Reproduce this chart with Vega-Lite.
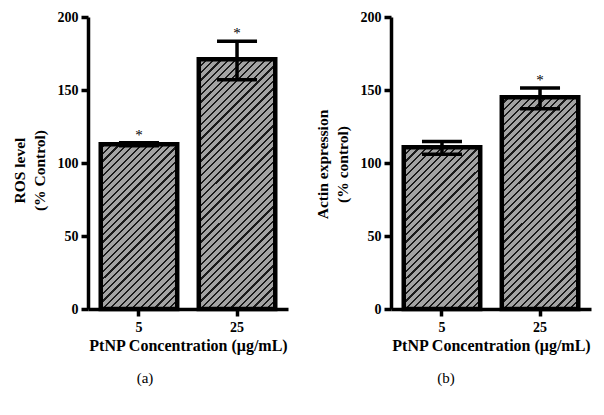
{
  "$schema": "https://vega.github.io/schema/vega-lite/v6.json",
  "background": "white",
  "padding": {"left": 12, "top": 10, "right": 5, "bottom": 5},
  "spacing": 27,
  "config": {
    "view": {"stroke": null},
    "axis": {"domainColor": "black", "domainWidth": 3.5, "tickColor": "black", "tickWidth": 3.5, "tickSize": 7, "labelColor": "black", "titleColor": "black", "grid": false},
    "bar": {
        "color": {
          "gradient": "linear", "x1": 0, "y1": 0, "x2": 0.309, "y2": 1.1808,
          "stops": [
            {"offset":0,"color":"#a3a3a3"},{"offset":0.014,"color":"#a3a3a3"},{"offset":0.014,"color":"#1a1a1a"},{"offset":0.02,"color":"#1a1a1a"},
            {"offset":0.02,"color":"#a3a3a3"},{"offset":0.034,"color":"#a3a3a3"},{"offset":0.034,"color":"#1a1a1a"},{"offset":0.04,"color":"#1a1a1a"},
            {"offset":0.04,"color":"#a3a3a3"},{"offset":0.054,"color":"#a3a3a3"},{"offset":0.054,"color":"#1a1a1a"},{"offset":0.06,"color":"#1a1a1a"},
            {"offset":0.06,"color":"#a3a3a3"},{"offset":0.074,"color":"#a3a3a3"},{"offset":0.074,"color":"#1a1a1a"},{"offset":0.08,"color":"#1a1a1a"},
            {"offset":0.08,"color":"#a3a3a3"},{"offset":0.094,"color":"#a3a3a3"},{"offset":0.094,"color":"#1a1a1a"},{"offset":0.1,"color":"#1a1a1a"},
            {"offset":0.1,"color":"#a3a3a3"},{"offset":0.114,"color":"#a3a3a3"},{"offset":0.114,"color":"#1a1a1a"},{"offset":0.12,"color":"#1a1a1a"},
            {"offset":0.12,"color":"#a3a3a3"},{"offset":0.134,"color":"#a3a3a3"},{"offset":0.134,"color":"#1a1a1a"},{"offset":0.14,"color":"#1a1a1a"},
            {"offset":0.14,"color":"#a3a3a3"},{"offset":0.154,"color":"#a3a3a3"},{"offset":0.154,"color":"#1a1a1a"},{"offset":0.16,"color":"#1a1a1a"},
            {"offset":0.16,"color":"#a3a3a3"},{"offset":0.174,"color":"#a3a3a3"},{"offset":0.174,"color":"#1a1a1a"},{"offset":0.18,"color":"#1a1a1a"},
            {"offset":0.18,"color":"#a3a3a3"},{"offset":0.194,"color":"#a3a3a3"},{"offset":0.194,"color":"#1a1a1a"},{"offset":0.2,"color":"#1a1a1a"},
            {"offset":0.2,"color":"#a3a3a3"},{"offset":0.214,"color":"#a3a3a3"},{"offset":0.214,"color":"#1a1a1a"},{"offset":0.22,"color":"#1a1a1a"},
            {"offset":0.22,"color":"#a3a3a3"},{"offset":0.234,"color":"#a3a3a3"},{"offset":0.234,"color":"#1a1a1a"},{"offset":0.24,"color":"#1a1a1a"},
            {"offset":0.24,"color":"#a3a3a3"},{"offset":0.254,"color":"#a3a3a3"},{"offset":0.254,"color":"#1a1a1a"},{"offset":0.26,"color":"#1a1a1a"},
            {"offset":0.26,"color":"#a3a3a3"},{"offset":0.274,"color":"#a3a3a3"},{"offset":0.274,"color":"#1a1a1a"},{"offset":0.28,"color":"#1a1a1a"},
            {"offset":0.28,"color":"#a3a3a3"},{"offset":0.294,"color":"#a3a3a3"},{"offset":0.294,"color":"#1a1a1a"},{"offset":0.3,"color":"#1a1a1a"},
            {"offset":0.3,"color":"#a3a3a3"},{"offset":0.314,"color":"#a3a3a3"},{"offset":0.314,"color":"#1a1a1a"},{"offset":0.32,"color":"#1a1a1a"},
            {"offset":0.32,"color":"#a3a3a3"},{"offset":0.334,"color":"#a3a3a3"},{"offset":0.334,"color":"#1a1a1a"},{"offset":0.34,"color":"#1a1a1a"},
            {"offset":0.34,"color":"#a3a3a3"},{"offset":0.354,"color":"#a3a3a3"},{"offset":0.354,"color":"#1a1a1a"},{"offset":0.36,"color":"#1a1a1a"},
            {"offset":0.36,"color":"#a3a3a3"},{"offset":0.374,"color":"#a3a3a3"},{"offset":0.374,"color":"#1a1a1a"},{"offset":0.38,"color":"#1a1a1a"},
            {"offset":0.38,"color":"#a3a3a3"},{"offset":0.394,"color":"#a3a3a3"},{"offset":0.394,"color":"#1a1a1a"},{"offset":0.4,"color":"#1a1a1a"},
            {"offset":0.4,"color":"#a3a3a3"},{"offset":0.414,"color":"#a3a3a3"},{"offset":0.414,"color":"#1a1a1a"},{"offset":0.42,"color":"#1a1a1a"},
            {"offset":0.42,"color":"#a3a3a3"},{"offset":0.434,"color":"#a3a3a3"},{"offset":0.434,"color":"#1a1a1a"},{"offset":0.44,"color":"#1a1a1a"},
            {"offset":0.44,"color":"#a3a3a3"},{"offset":0.454,"color":"#a3a3a3"},{"offset":0.454,"color":"#1a1a1a"},{"offset":0.46,"color":"#1a1a1a"},
            {"offset":0.46,"color":"#a3a3a3"},{"offset":0.474,"color":"#a3a3a3"},{"offset":0.474,"color":"#1a1a1a"},{"offset":0.48,"color":"#1a1a1a"},
            {"offset":0.48,"color":"#a3a3a3"},{"offset":0.494,"color":"#a3a3a3"},{"offset":0.494,"color":"#1a1a1a"},{"offset":0.5,"color":"#1a1a1a"},
            {"offset":0.5,"color":"#a3a3a3"},{"offset":0.514,"color":"#a3a3a3"},{"offset":0.514,"color":"#1a1a1a"},{"offset":0.52,"color":"#1a1a1a"},
            {"offset":0.52,"color":"#a3a3a3"},{"offset":0.534,"color":"#a3a3a3"},{"offset":0.534,"color":"#1a1a1a"},{"offset":0.54,"color":"#1a1a1a"},
            {"offset":0.54,"color":"#a3a3a3"},{"offset":0.554,"color":"#a3a3a3"},{"offset":0.554,"color":"#1a1a1a"},{"offset":0.56,"color":"#1a1a1a"},
            {"offset":0.56,"color":"#a3a3a3"},{"offset":0.574,"color":"#a3a3a3"},{"offset":0.574,"color":"#1a1a1a"},{"offset":0.58,"color":"#1a1a1a"},
            {"offset":0.58,"color":"#a3a3a3"},{"offset":0.594,"color":"#a3a3a3"},{"offset":0.594,"color":"#1a1a1a"},{"offset":0.6,"color":"#1a1a1a"},
            {"offset":0.6,"color":"#a3a3a3"},{"offset":0.614,"color":"#a3a3a3"},{"offset":0.614,"color":"#1a1a1a"},{"offset":0.62,"color":"#1a1a1a"},
            {"offset":0.62,"color":"#a3a3a3"},{"offset":0.634,"color":"#a3a3a3"},{"offset":0.634,"color":"#1a1a1a"},{"offset":0.64,"color":"#1a1a1a"},
            {"offset":0.64,"color":"#a3a3a3"},{"offset":0.654,"color":"#a3a3a3"},{"offset":0.654,"color":"#1a1a1a"},{"offset":0.66,"color":"#1a1a1a"},
            {"offset":0.66,"color":"#a3a3a3"},{"offset":0.674,"color":"#a3a3a3"},{"offset":0.674,"color":"#1a1a1a"},{"offset":0.68,"color":"#1a1a1a"},
            {"offset":0.68,"color":"#a3a3a3"},{"offset":0.694,"color":"#a3a3a3"},{"offset":0.694,"color":"#1a1a1a"},{"offset":0.7,"color":"#1a1a1a"},
            {"offset":0.7,"color":"#a3a3a3"},{"offset":0.714,"color":"#a3a3a3"},{"offset":0.714,"color":"#1a1a1a"},{"offset":0.72,"color":"#1a1a1a"},
            {"offset":0.72,"color":"#a3a3a3"},{"offset":0.734,"color":"#a3a3a3"},{"offset":0.734,"color":"#1a1a1a"},{"offset":0.74,"color":"#1a1a1a"},
            {"offset":0.74,"color":"#a3a3a3"},{"offset":0.754,"color":"#a3a3a3"},{"offset":0.754,"color":"#1a1a1a"},{"offset":0.76,"color":"#1a1a1a"},
            {"offset":0.76,"color":"#a3a3a3"},{"offset":0.774,"color":"#a3a3a3"},{"offset":0.774,"color":"#1a1a1a"},{"offset":0.78,"color":"#1a1a1a"},
            {"offset":0.78,"color":"#a3a3a3"},{"offset":0.794,"color":"#a3a3a3"},{"offset":0.794,"color":"#1a1a1a"},{"offset":0.8,"color":"#1a1a1a"},
            {"offset":0.8,"color":"#a3a3a3"},{"offset":0.814,"color":"#a3a3a3"},{"offset":0.814,"color":"#1a1a1a"},{"offset":0.82,"color":"#1a1a1a"},
            {"offset":0.82,"color":"#a3a3a3"},{"offset":0.834,"color":"#a3a3a3"},{"offset":0.834,"color":"#1a1a1a"},{"offset":0.84,"color":"#1a1a1a"},
            {"offset":0.84,"color":"#a3a3a3"},{"offset":0.854,"color":"#a3a3a3"},{"offset":0.854,"color":"#1a1a1a"},{"offset":0.86,"color":"#1a1a1a"},
            {"offset":0.86,"color":"#a3a3a3"},{"offset":0.874,"color":"#a3a3a3"},{"offset":0.874,"color":"#1a1a1a"},{"offset":0.88,"color":"#1a1a1a"},
            {"offset":0.88,"color":"#a3a3a3"},{"offset":0.894,"color":"#a3a3a3"},{"offset":0.894,"color":"#1a1a1a"},{"offset":0.9,"color":"#1a1a1a"},
            {"offset":0.9,"color":"#a3a3a3"},{"offset":0.914,"color":"#a3a3a3"},{"offset":0.914,"color":"#1a1a1a"},{"offset":0.92,"color":"#1a1a1a"},
            {"offset":0.92,"color":"#a3a3a3"},{"offset":0.934,"color":"#a3a3a3"},{"offset":0.934,"color":"#1a1a1a"},{"offset":0.94,"color":"#1a1a1a"},
            {"offset":0.94,"color":"#a3a3a3"},{"offset":0.954,"color":"#a3a3a3"},{"offset":0.954,"color":"#1a1a1a"},{"offset":0.96,"color":"#1a1a1a"},
            {"offset":0.96,"color":"#a3a3a3"},{"offset":0.974,"color":"#a3a3a3"},{"offset":0.974,"color":"#1a1a1a"},{"offset":0.98,"color":"#1a1a1a"},
            {"offset":0.98,"color":"#a3a3a3"},{"offset":0.994,"color":"#a3a3a3"},{"offset":0.994,"color":"#1a1a1a"},{"offset":1,"color":"#1a1a1a"}
          ]
        }
    }
  },
  "hconcat": [
    {
      "width": 200,
      "height": 292,
      "data": {"values": [
        {"conc": "5", "mean": 112.8, "lo": 111.8, "hi": 113.8, "sig": "*"},
        {"conc": "25", "mean": 171, "lo": 157, "hi": 183.4, "sig": "*"}
      ]},
      "title": {"text": "(a)", "orient": "bottom", "anchor": "middle", "dx": -43, "offset": 18, "font": "Liberation Serif", "fontSize": 15, "fontWeight": "normal", "color": "black"},
      "encoding": {
        "x": {"field": "conc", "type": "nominal", "sort": ["5", "25"], "scale": {"paddingInner": 0.22, "paddingOuter": 0.13},
              "axis": {"title": "PtNP Concentration (μg/mL)", "labelAngle": 0, "labelPadding": 4, "labelFont": "Liberation Serif", "labelFontSize": 14, "labelFontWeight": "bold", "titleFont": "Liberation Serif", "titleFontSize": 16, "titleFontWeight": "bold", "titlePadding": 3}}
      },
      "layer": [
        {"mark": {"type": "bar", "stroke": null},
         "encoding": {"y": {"datum": 0, "type": "quantitative", "scale": {"domain": [0, 200], "nice": false},
                            "axis": {"title": ["ROS level", "(% Control)"], "values": [0, 50, 100, 150, 200], "labelPadding": 3, "labelFont": "Liberation Serif", "labelFontSize": 14, "labelFontWeight": "bold", "titleFont": "Liberation Serif", "titleFontSize": 15.5, "titleFontWeight": "bold", "titlePadding": 10, "titleLineHeight": 20, "titleY": 153}},
                      "y2": {"datum": 200}}},
        {"mark": {"type": "bar", "fill": "white", "stroke": "white", "strokeWidth": 2},
         "encoding": {"y": {"field": "mean", "type": "quantitative"}, "y2": {"datum": 200}}},
        {"mark": {"type": "bar", "fillOpacity": 0, "stroke": "black", "strokeWidth": 4.5},
         "encoding": {"y": {"field": "mean", "type": "quantitative"}}},
        {"mark": {"type": "rule", "color": "black", "strokeWidth": 3.5},
         "encoding": {"y": {"field": "lo", "type": "quantitative"}, "y2": {"field": "hi"}}},
        {"mark": {"type": "tick", "color": "black", "opacity": 1, "thickness": 3.5, "size": 40},
         "encoding": {"y": {"field": "hi", "type": "quantitative"}}},
        {"mark": {"type": "tick", "color": "black", "opacity": 1, "thickness": 3.5, "size": 40},
         "encoding": {"y": {"field": "lo", "type": "quantitative"}}},
        {"mark": {"type": "text", "fill": "black", "font": "Liberation Serif", "fontSize": 15, "baseline": "alphabetic", "dy": -3},
         "encoding": {"y": {"field": "hi", "type": "quantitative"}, "text": {"field": "sig"}}}
      ]
    },
    {
      "width": 200,
      "height": 292,
      "data": {"values": [
        {"conc": "5", "mean": 110.8, "lo": 106, "hi": 114.7, "sig": ""},
        {"conc": "25", "mean": 145, "lo": 137.2, "hi": 151.3, "sig": "*"}
      ]},
      "title": {"text": "(b)", "orient": "bottom", "anchor": "middle", "dx": -45, "offset": 18, "font": "Liberation Serif", "fontSize": 15, "fontWeight": "normal", "color": "black"},
      "encoding": {
        "x": {"field": "conc", "type": "nominal", "sort": ["5", "25"], "scale": {"paddingInner": 0.22, "paddingOuter": 0.13},
              "axis": {"title": "PtNP Concentration (μg/mL)", "labelAngle": 0, "labelPadding": 4, "labelFont": "Liberation Serif", "labelFontSize": 14, "labelFontWeight": "bold", "titleFont": "Liberation Serif", "titleFontSize": 16, "titleFontWeight": "bold", "titlePadding": 3}}
      },
      "layer": [
        {"mark": {"type": "bar", "stroke": null},
         "encoding": {"y": {"datum": 0, "type": "quantitative", "scale": {"domain": [0, 200], "nice": false},
                            "axis": {"title": ["Actin expression", "(% control)"], "values": [0, 50, 100, 150, 200], "labelPadding": 3, "labelFont": "Liberation Serif", "labelFontSize": 14, "labelFontWeight": "bold", "titleFont": "Liberation Serif", "titleFontSize": 15.5, "titleFontWeight": "bold", "titlePadding": 10, "titleLineHeight": 20, "titleY": 147}},
                      "y2": {"datum": 200}}},
        {"mark": {"type": "bar", "fill": "white", "stroke": "white", "strokeWidth": 2},
         "encoding": {"y": {"field": "mean", "type": "quantitative"}, "y2": {"datum": 200}}},
        {"mark": {"type": "bar", "fillOpacity": 0, "stroke": "black", "strokeWidth": 4.5},
         "encoding": {"y": {"field": "mean", "type": "quantitative"}}},
        {"mark": {"type": "rule", "color": "black", "strokeWidth": 3.5},
         "encoding": {"y": {"field": "lo", "type": "quantitative"}, "y2": {"field": "hi"}}},
        {"mark": {"type": "tick", "color": "black", "opacity": 1, "thickness": 3.5, "size": 40},
         "encoding": {"y": {"field": "hi", "type": "quantitative"}}},
        {"mark": {"type": "tick", "color": "black", "opacity": 1, "thickness": 3.5, "size": 40},
         "encoding": {"y": {"field": "lo", "type": "quantitative"}}},
        {"mark": {"type": "text", "fill": "black", "font": "Liberation Serif", "fontSize": 15, "baseline": "alphabetic", "dy": -3},
         "encoding": {"y": {"field": "hi", "type": "quantitative"}, "text": {"field": "sig"}}}
      ]
    }
  ]
}
